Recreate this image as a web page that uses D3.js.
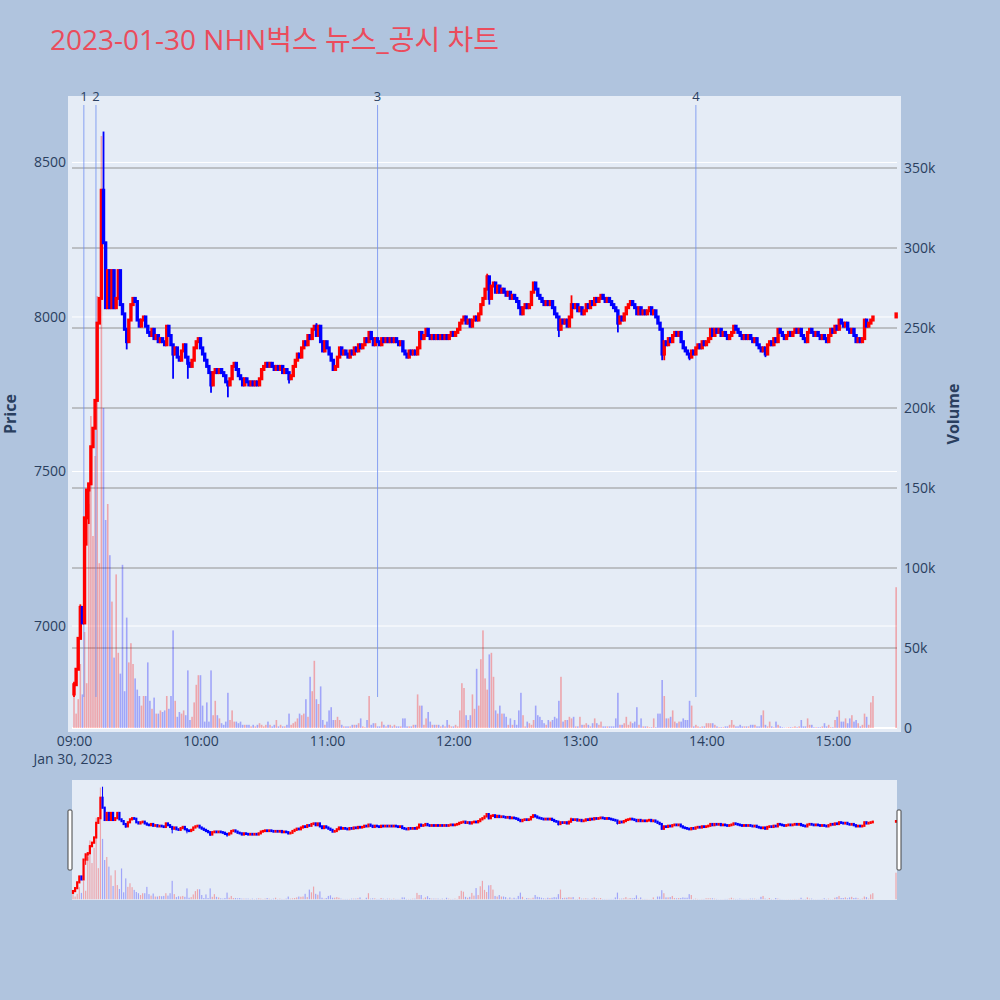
<!DOCTYPE html>
<html>
<head>
<meta charset="utf-8">
<script src="https://cdn.jsdelivr.net/npm/d3@7"></script>
<style>
  body { margin: 0; background: #b0c4de; }
  svg { display: block; font-family: "Open Sans", "Noto Sans CJK KR", sans-serif; }
</style>
</head>
<body>
<svg id="chart" width="1000" height="1000"></svg>
<script>
// ---- data ----
const title = "2023-01-30 NHN벅스 뉴스_공시 차트";
const tradeDate = "2023-01-30";
const sessionOpen = "09:00";
const closingAuction = "15:30";
const firstOpen = 6780;

// 1-minute closes from 09:00 to 15:19
const closes = [
  6810,6860,6960,7060,7010,7350,7440,7460,7580,7640, 7730,7980,8060,8410,8240,8030,8150,8030,8150,8030,
  8060,8150,8040,8010,7960,7920,7990,8040,8060,8050, 7990,7970,7990,8000,7970,7950,7940,7960,7930,7940,
  7920,7930,7920,7910,7970,7940,7910,7880,7900,7870, 7860,7890,7910,7870,7850,7840,7860,7900,7920,7930,
  7900,7880,7860,7840,7820,7780,7820,7830,7820,7830, 7820,7810,7790,7780,7800,7840,7850,7830,7810,7800,
  7780,7800,7790,7780,7790,7780,7790,7780,7800,7830, 7840,7850,7840,7850,7840,7830,7840,7830,7840,7820,
  7830,7820,7800,7810,7840,7860,7880,7870,7900,7920, 7910,7940,7930,7960,7970,7940,7970,7920,7890,7920,
  7900,7880,7860,7830,7840,7870,7900,7880,7890,7880, 7870,7890,7880,7900,7890,7910,7900,7910,7930,7920,
  7950,7930,7910,7930,7920,7910,7930,7920,7930,7920, 7930,7920,7930,7920,7910,7920,7890,7880,7870,7890,
  7880,7890,7880,7900,7950,7930,7940,7960,7940,7930, 7940,7930,7940,7930,7940,7930,7940,7930,7940,7950,
  7940,7950,7960,7980,7990,8000,7980,7990,7970,7990, 8000,7990,8010,8040,8060,8090,8130,8060,8100,8110,
  8080,8100,8080,8090,8080,8070,8080,8060,8070,8060, 8050,8030,8010,8030,8040,8030,8040,8080,8110,8090,
  8070,8060,8050,8040,8050,8040,8050,8030,8010,8000, 7960,7990,7980,7990,7970,8000,8040,8030,8040,8020,
  8030,8010,8020,8040,8030,8050,8040,8060,8050,8060, 8070,8060,8050,8060,8050,8040,8030,8020,7980,8000,
  7990,8010,8030,8040,8050,8040,8030,8010,8030,8010, 8020,8010,8020,8030,8010,8020,8000,7980,7960,7880,
  7920,7910,7930,7920,7940,7950,7940,7950,7920,7900, 7890,7880,7870,7890,7880,7900,7910,7900,7920,7910,
  7920,7930,7960,7940,7960,7950,7960,7940,7950,7940, 7930,7940,7950,7970,7960,7950,7940,7930,7940,7930,
  7940,7930,7920,7930,7910,7900,7890,7900,7880,7910, 7920,7910,7930,7920,7960,7950,7940,7930,7940,7950,
  7940,7950,7960,7950,7960,7940,7930,7920,7950,7960, 7950,7940,7950,7940,7930,7940,7930,7920,7940,7960,
  7950,7970,7960,7990,7980,7970,7980,7960,7950,7960, 7940,7920,7930,7920,7930,7990,7970,7980,7990,8000
];
const auctionClose = 8010;

// volume per minute, thousands of shares
const volumes = [
  20,9,18,40,21,60,28,140,195,120, 170,270,103,370,200,130,140,108,79,44,
  96,47,34,102,23,69,41,53,40,31, 24,20,14,20,20,41,17,12,19,9,
  9,11,10,11,20,12,20,61,17,7, 10,9,11,8,36,5,7,16,27,33,
  33,14,4,16,4,36,8,17,8,6, 3,2,4,22,5,11,4,4,3,4,
  2,2,2,2,1,2,1,2,3,2, 1,2,4,2,1,2,5,1,2,1,
  1,2,9,2,3,4,6,9,8,9, 18,7,32,23,42,18,15,26,5,2,
  4,11,13,5,5,7,5,2,1,1, 1,1,2,2,2,3,6,1,0.5,5,
  20,2,3,3,1,1,4,2,1,2, 2,1,2,1,1,1,6,6,1,1,
  1,2,2,21,14,14,2,6,10,4, 2,2,2,2,1,2,1,5,2,1,
  1,2,1,11,28,25,8,5,8,21, 12,37,14,43,61,31,24,46,47,32,
  11,9,14,9,9,7,2,6,2,5, 2,11,22,8,1,4,3,2,5,14,
  8,7,5,3,2,5,4,5,7,6, 17,32,4,5,5,7,6,7,1,1,
  7,2,2,3,2,1,3,6,3,2, 4,1,1,1,1,1,1,6,22,2,
  2,3,7,2,4,3,4,13,2,6, 1,1,1,0.5,0.5,6,0.5,9,9,30,
  20,6,6,7,11,4,3,4,4,6, 5,5,17,14,1,2,1,0.5,1,1,
  3,3,3,3,2,1,0.5,0.5,0.5,1, 1,2,5,2,1,1,2,1,1,1,
  1,2,2,2,1,1,8,11,2,1, 4,1,0.5,4,2,1,0.5,0.3,0.3,0.5,
  0.5,0.5,1,0.5,1,5,1,1,6,2, 2,0.5,0.5,0.5,0.5,1,3,1,2,0.5,
  0.5,5,7,11,4,4,6,3,6,8, 4,5,3,1,2,9,7,2,16,20
];
const auctionVolume = 88;

// minutes whose shadows reach past the body: [minute index, high, low]
const wicks = [
  [0, 6820, 6770], [3, 7070, null], [6, null, 7260], [7, null, 7330], [14, 8600, null],
  [25, null, 7895], [47, null, 7800], [54, null, 7800], [65, null, 7755], [73, null, 7740],
  [102, null, 7785], [115, 7980, null], [196, 8140, null], [197, null, 8040], [230, null, 7935],
  [236, 8070, null], [258, null, 7950], [279, null, 7860], [280, null, 7860], [292, null, 7860],
  [328, null, 7870]
];

const newsTimes = ["09:04:40", "09:10:25", "11:24:00", "13:55:00"];
const newsLabels = ["1", "2", "3", "4"];

const priceTicks = [7000, 7500, 8000, 8500];
const volumeTicks = [0, 50000, 100000, 150000, 200000, 250000, 300000, 350000];
const timeTicks = ["09:00", "10:00", "11:00", "12:00", "13:00", "14:00", "15:00"];

// ---- layout ----
const plot = {left: 68, right: 901, top: 96, bottom: 732};
const slider = {left: 72, right: 897, top: 780, bottom: 900};
const UP = "#ff0000", DOWN = "#0000ff";
const textColor = "#2a3f5f";

const parseMin = d3.timeParse("%Y-%m-%d %H:%M");
const parseSec = d3.timeParse("%Y-%m-%d %H:%M:%S");
const t0 = parseMin(`${tradeDate} ${sessionOpen}`);
const tEnd = parseMin(`${tradeDate} ${closingAuction}`);

const candles = closes.map((c, i) => ({
  t: d3.timeMinute.offset(t0, i),
  o: i ? closes[i - 1] : firstOpen,
  c: c,
  v: volumes[i] * 1000
}));
candles.push({t: tEnd, o: closes[closes.length - 1], c: auctionClose, v: auctionVolume * 1000});
candles.forEach(d => { d.h = Math.max(d.o, d.c); d.l = Math.min(d.o, d.c); d.up = d.c >= d.o; });
wicks.forEach(([i, h, l]) => { if (h != null) candles[i].h = h; if (l != null) candles[i].l = l; });

// scales
const x = d3.scaleTime()
  .domain([d3.timeSecond.offset(t0, -171), d3.timeSecond.offset(t0, 23538)])
  .range([plot.left, plot.right]);
const y = d3.scaleLinear().domain([6657, 8715]).range([plot.bottom, plot.top]);
const yv = d3.scaleLinear().domain([-2500, 395000]).range([plot.bottom, plot.top]);

const xs = d3.scaleTime().domain([t0, tEnd]).range([slider.left + 1, slider.right - 1]);
const ys = d3.scaleLinear().domain(y.domain()).range([slider.bottom, slider.top]);
const yvs = d3.scaleLinear().domain(yv.domain()).range([slider.bottom, slider.top]);

const svg = d3.select("#chart");

svg.append("rect").attr("width", 1000).attr("height", 1000).attr("fill", "#b0c4de");

// title
svg.append("text")
  .attr("x", 50).attr("y", 50)
  .attr("fill", "#eb4c5c")
  .style("font-size", "28px")
  .text(title);

// plot background
svg.append("rect")
  .attr("x", plot.left).attr("y", plot.top)
  .attr("width", plot.right - plot.left).attr("height", plot.bottom - plot.top)
  .attr("fill", "#e5ecf6");

// price grid (white)
svg.append("g").selectAll("line")
  .data(priceTicks).join("line")
  .attr("x1", 72).attr("x2", 897)
  .attr("y1", d => y(d)).attr("y2", d => y(d))
  .attr("stroke", "#ffffff").attr("stroke-width", 1);

// volume grid (grey)
svg.append("g").selectAll("line")
  .data(volumeTicks).join("line")
  .attr("x1", 72).attr("x2", 897)
  .attr("y1", d => yv(d)).attr("y2", d => yv(d))
  .attr("stroke", d => d === 0 ? "#ffffff" : "#929292")
  .attr("stroke-width", d => d === 0 ? 2 : 1);

// volume bars
svg.append("g").selectAll("rect")
  .data(candles).join("rect")
  .attr("x", d => x(d.t) - 0.8)
  .attr("width", 1.6)
  .attr("y", d => yv(d.v))
  .attr("height", d => Math.max(0, yv(0) - yv(d.v)))
  .attr("fill", d => d.up ? UP : DOWN)
  .attr("opacity", 0.3);

// news lines
const news = newsTimes.map((s, i) => ({t: parseSec(`${tradeDate} ${s}`), label: newsLabels[i]}));
svg.append("g").selectAll("line")
  .data(news).join("line")
  .attr("x1", d => x(d.t)).attr("x2", d => x(d.t))
  .attr("y1", 105).attr("y2", 697)
  .attr("stroke", "#6f8ff0").attr("stroke-opacity", 0.8).attr("stroke-width", 1);
svg.append("g").selectAll("text")
  .data(news).join("text")
  .attr("x", d => x(d.t)).attr("y", 101)
  .attr("text-anchor", "middle")
  .attr("fill", textColor)
  .style("font-size", "13px")
  .text(d => d.label);

// candles
function drawCandles(g, xsc, ysc, bodyW, wickW, minH) {
  g.selectAll("line")
    .data(candles).join("line")
    .attr("x1", d => xsc(d.t)).attr("x2", d => xsc(d.t))
    .attr("y1", d => ysc(d.h)).attr("y2", d => ysc(d.l))
    .attr("stroke", d => d.up ? UP : DOWN)
    .attr("stroke-width", wickW);
  g.selectAll("rect")
    .data(candles).join("rect")
    .attr("x", d => xsc(d.t) - bodyW / 2)
    .attr("width", bodyW)
    .attr("y", d => ysc(Math.max(d.o, d.c)) - minH / 2)
    .attr("height", d => Math.abs(ysc(d.o) - ysc(d.c)) + minH)
    .attr("fill", d => d.up ? UP : DOWN);
}
drawCandles(svg.append("g"), x, y, 3.4, 1.8, 3);

// axes
const axisFont = g => g.selectAll("text").attr("fill", textColor).style("font-size", "14px")
  .style("font-family", '"Open Sans", sans-serif');

const yAxis = svg.append("g")
  .attr("transform", `translate(${plot.left - 2},0)`)
  .call(d3.axisLeft(y).tickValues(priceTicks).tickSize(0).tickPadding(0).tickFormat(d3.format("d")));
yAxis.select(".domain").remove();
yAxis.call(axisFont);

const vAxis = svg.append("g")
  .attr("transform", `translate(${plot.right + 3},0)`)
  .call(d3.axisRight(yv).tickValues(volumeTicks).tickSize(0).tickPadding(0)
    .tickFormat(d => d === 0 ? "0" : d3.format("d")(d / 1000) + "k"));
vAxis.select(".domain").remove();
vAxis.call(axisFont);

const xAxis = svg.append("g")
  .attr("transform", `translate(0,${plot.bottom})`)
  .call(d3.axisBottom(x)
    .tickValues(timeTicks.map(s => parseMin(`${tradeDate} ${s}`)))
    .tickSize(0).tickPadding(4)
    .tickFormat(d3.timeFormat("%H:%M")));
xAxis.select(".domain").remove();
xAxis.call(axisFont);

svg.append("text")
  .attr("x", x(t0) - 1).attr("y", 764)
  .attr("text-anchor", "middle")
  .attr("fill", textColor)
  .style("font-size", "14px")
  .text(d3.timeFormat("%b %-d, %Y")(t0));

svg.append("text")
  .attr("transform", "translate(16,414) rotate(-90)")
  .attr("text-anchor", "middle")
  .attr("fill", textColor)
  .style("font-size", "16px").style("font-weight", "bold")
  .text("Price");
svg.append("text")
  .attr("transform", "translate(959,414) rotate(-90)")
  .attr("text-anchor", "middle")
  .attr("fill", textColor)
  .style("font-size", "16px").style("font-weight", "bold")
  .text("Volume");

// range slider
svg.append("rect")
  .attr("x", slider.left).attr("y", slider.top)
  .attr("width", slider.right - slider.left).attr("height", slider.bottom - slider.top)
  .attr("fill", "#e5ecf6");

svg.append("g").selectAll("rect")
  .data(candles).join("rect")
  .attr("x", d => xs(d.t) - 0.6)
  .attr("width", 1.2)
  .attr("y", d => yvs(d.v))
  .attr("height", d => Math.max(0, yvs(0) - yvs(d.v)))
  .attr("fill", d => d.up ? UP : DOWN)
  .attr("opacity", 0.3);

drawCandles(svg.append("g"), xs, ys, 2.2, 1, 2.2);

[slider.left - 2, slider.right + 2].forEach(cx => {
  svg.append("rect")
    .attr("x", cx - 2).attr("y", 810)
    .attr("width", 4).attr("height", 60)
    .attr("rx", 1)
    .attr("fill", "#ffffff").attr("stroke", "#444444").attr("stroke-width", 1);
});
</script>
</body>
</html>
